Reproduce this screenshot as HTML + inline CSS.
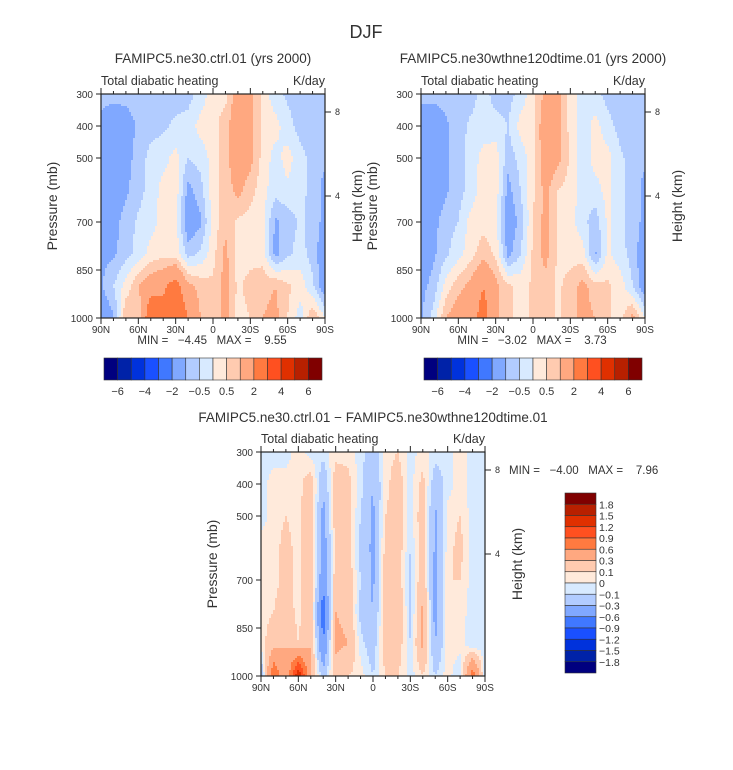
<!DOCTYPE html>
<html><head><meta charset="utf-8">
<style>
html,body{margin:0;padding:0;background:#fff;}
svg{display:block;font-family:"Liberation Sans",sans-serif;}
text{fill:#333;white-space:pre;}
</style></head>
<body>
<svg id="fig" width="733" height="770" viewBox="0 0 733 770" xmlns="http://www.w3.org/2000/svg">
<text x="366" y="38" font-size="18" text-anchor="middle">DJF</text>
</svg>
<script>
// ---- data ----
const lats = [90,80,70,60,50,40,30,20,10,0,-10,-20,-30,-40,-50,-60,-70,-80,-90];
const levs = [300,400,500,600,700,800,900,1000];
const ctrlVals = [
 [-0.8,-0.8,-0.8,-0.8,-0.8,-0.7,-0.7,-0.7,-0.3,0.3,0.3,1.5,1.2,0.3,-0.3,-0.6,-0.8,-0.8,-0.8],
 [-1.2,-1.5,-1.3,-0.9,-0.7,-0.6,-0.4,-0.3,0.2,0.3,0.8,1.5,1.2,0.3,0.2,-0.3,-0.7,-0.9,-0.9],
 [-1.3,-1.5,-1.2,-0.8,-0.3,-0.2,0.2,-0.5,-0.3,0.2,0.8,1.5,1.2,0.3,-0.2,0.2,-0.3,-0.7,-0.9],
 [-1.2,-1.3,-1.1,-0.7,-0.3,0.2,0.3,-1.2,-0.7,0.3,0.7,1.2,0.7,0.2,-0.3,-0.1,-0.3,-0.7,-1.2],
 [-1.1,-1.2,-0.8,-0.4,-0.2,0.2,0.2,-1.5,-1.1,0.2,0.8,0.4,0.3,0.2,-1.1,-0.8,-0.4,-0.7,-1.2],
 [-1.1,-1.1,-0.7,-0.3,0.2,0.3,0.3,-0.7,-0.4,0.3,1.2,0.2,0.3,0.3,-1.2,-0.6,-0.3,-0.7,-1.5],
 [-1.1,-0.5,0.2,1,1.5,1.8,2.5,1.2,0.8,0.6,1.2,0.4,0.7,0.8,1,0.6,0.3,-0.4,-1.5],
 [-1.5,-1.1,1,0.5,3,2.5,3,2,1,0.6,1.2,0.3,0.5,1,1.2,0.5,-0.3,1,0]
];
const expVals = [
 [-0.8,-0.8,-0.8,-0.8,-0.7,-0.3,-0.7,-0.7,-0.3,0.3,1.2,1.2,0.3,-0.3,-0.3,-0.7,-0.8,-0.9,-0.9],
 [-1.5,-1.5,-1.1,-0.7,-0.4,-0.3,-0.3,-0.5,0.2,0.4,1.5,1.3,0.3,-0.3,0.2,-0.3,-0.7,-0.9,-0.9],
 [-1.5,-1.5,-1.1,-0.7,-0.3,0.2,0.3,-0.8,-0.3,0.3,1.5,1.2,0.4,-0.3,0.2,0.2,-0.4,-0.7,-0.9],
 [-1.5,-1.5,-1.1,-0.7,-0.3,0.3,0.3,-1.2,-0.5,0.4,1.2,0.5,0.3,-0.3,-0.2,0.2,-0.4,-0.7,-1.2],
 [-1.5,-1.2,-0.7,-0.5,0.2,0.3,0.2,-1.5,-0.8,0.5,1.2,0.4,0.2,-0.3,-0.8,0.1,-0.4,-0.7,-1.2],
 [-1.5,-1.1,-0.6,-0.2,0.3,0.8,0.4,-1.2,-0.5,0.6,1.2,0.4,0.3,0.2,-1.1,0.1,-0.3,-0.7,-1.5],
 [-1.2,-0.8,0.2,0.8,1.2,2,1.2,0.6,0.3,0.6,0.8,0.4,0.7,1.2,0.7,0.6,0.3,-0.5,-1.5],
 [-1.1,-0.3,1,1.5,1.5,2.5,1.2,0.6,0.3,0.6,0.8,0.4,0.8,1.2,1,0.6,0.3,1.2,0]
];
const diffVals = [
 [-0.05,-0.05,-0.05,0.05,-0.05,-0.05,0.05,0.05,-0.05,-0.2,0.05,0.1,-0.05,0.05,-0.05,-0.05,0.05,-0.05,-0.05],
 [-0.05,0.05,0.05,0.05,0.2,-0.25,0.2,0.15,-0.05,-0.3,0.05,0.2,-0.05,0.15,-0.2,-0.05,0.05,-0.05,-0.05],
 [-0.05,0.05,0.1,0.05,0.25,-0.4,0.2,0.15,-0.1,-0.35,0.1,0.2,-0.05,0.2,-0.35,0.05,0.1,-0.05,-0.05],
 [0.05,0.05,0.15,0.05,0.25,-0.45,0.15,0.2,-0.15,-0.35,0.15,0.2,-0.1,0.2,-0.35,0.05,0.15,-0.05,-0.05],
 [0.05,0.05,0.15,0.05,0.25,-0.5,0.2,0.2,-0.1,-0.35,0.2,0.2,-0.15,0.25,-0.4,0.1,0.1,-0.05,-0.05],
 [0.05,0.1,0.2,0.05,0.25,-0.8,0.3,0.25,-0.15,-0.3,0.2,0.3,-0.15,0.35,-0.4,0.1,0.05,-0.05,-0.05],
 [0.05,0.2,0.3,0.1,0.3,-0.6,0.35,0.3,-0.05,-0.2,0.2,0.2,-0.1,0.35,-0.3,0.05,0.05,-0.1,-0.05],
 [-0.3,0.9,0.3,1.5,0.3,-0.2,0.2,0.1,0.05,-0.1,0.1,0.1,-0.05,0.1,-0.1,0.05,-0.1,0.8,-0.1]
];
const mainLevels = [-6,-5,-4,-3,-2,-1,-0.5,0,0.5,1,2,3,4,5,6];
const mainLabels = ["-6","-4","-2","-0.5","0.5","2","4","6"];
const diffLevels = [-1.8,-1.5,-1.2,-0.9,-0.6,-0.3,-0.1,0,0.1,0.3,0.6,0.9,1.2,1.5,1.8];
const colors = ["#00007f","#0022a8","#0032dc","#1a50ff","#4078ff","#80a8ff","#b2ccff","#d8eaff","#ffeadb","#ffcbb0","#ffa880","#ff7a40","#ff5020","#e03000","#b82000","#800000"];
const pTicks = [300,400,500,700,850,1000];
const latTicks = [90,60,30,0,-30,-60,-90];
const hTicks = [[8,18],[4,102]];

const NS="http://www.w3.org/2000/svg";
const svg=document.getElementById('fig');
function el(tag,attrs,parent){const e=document.createElementNS(NS,tag);for(const k in attrs)e.setAttribute(k,attrs[k]);(parent||svg).appendChild(e);return e;}
function txt(x,y,s,size,anchor,parent,extra){const t=el('text',Object.assign({x:x,y:y,'font-size':size,'text-anchor':anchor||'start'},extra||{}),parent);t.textContent=s;return t;}
function latLabel(l){return l===0?'0':(Math.abs(l)+(l>0?'N':'S'));}
function minus(s){return String(s).replace('-','\u2212');}

function sample(grid,lat,p){
  let fi=(90-lat)/10, fj=(p-300)/100;
  let i0=Math.min(Math.floor(fi),17), j0=Math.min(Math.floor(fj),6);
  let tx=fi-i0, ty=fj-j0;
  const a=grid[j0][i0],b=grid[j0][i0+1],c=grid[j0+1][i0],d=grid[j0+1][i0+1];
  return (a*(1-tx)+b*tx)*(1-ty)+(c*(1-tx)+d*tx)*ty;
}
function colorIdx(v,levels){let k=0;while(k<levels.length&&v>=levels[k])k++;return k;}

function panel(name,x0,y0,w,h,grid,levels,title,titleX,titleY){
  const g=el('g',{});
  
  
  const xs=lat=>x0+(90-lat)/180*w;
  const ys=p=>y0+(p-300)/700*h;
  const cell=2;
  const nx=Math.ceil(w/cell), ny=Math.ceil(h/cell);
  for(let r=0;r<ny;r++){
    const py=y0+r*cell, p=300+(r*cell+cell/2)/h*700;
    let start=0, cur=-1;
    for(let c=0;c<=nx;c++){
      let k=-2;
      if(c<nx){const lat=90-(c*cell+cell/2)/w*180;k=colorIdx(sample(grid,lat,p),levels);}
      if(k!==cur){
        if(cur>=0){
          const rc=el('rect',{x:x0+start*cell,y:py,width:Math.min((c-start)*cell,w-start*cell)+0.4,height:Math.min(cell,y0+h-py)+0.4,fill:colors[cur]},g);
          
          
        }
        cur=k;start=c;
      }
    }
  }
  el('rect',{x:x0,y:y0,width:w,height:h,fill:'none',stroke:'#222','stroke-width':1.2},g);
  for(let l=90;l>=-90;l-=10){
    const len=(l%30===0)?6:3;
    el('line',{x1:xs(l),x2:xs(l),y1:y0+h,y2:y0+h+len,stroke:'#222'},g);
    el('line',{x1:xs(l),x2:xs(l),y1:y0,y2:y0-len,stroke:'#222'},g);
  }
  latTicks.forEach(l=>{const t=txt(xs(l),y0+h+15,latLabel(l),10,'middle',g);});
  pTicks.forEach(p=>{
    el('line',{x1:x0-5,x2:x0,y1:ys(p),y2:ys(p),stroke:'#222'},g);
    const t=txt(x0-8,ys(p)+4,String(p),10,'end',g);
    
    
  });
  hTicks.forEach(([km,off])=>{
    el('line',{x1:x0+w,x2:x0+w+6,y1:y0+off,y2:y0+off,stroke:'#222'},g);
    txt(x0+w+10,y0+off+3,String(km),9,'start',g);
  });
  const yt=txt(0,0,'Pressure (mb)',14,'middle',g,{transform:`translate(${x0-44},${y0+h/2}) rotate(-90)`,fill:'#555'});
  
  
  const ht=txt(0,0,'Height (km)',14,'middle',g,{transform:`translate(${x0+w+37},${y0+h/2}) rotate(-90)`,fill:'#555'});
  
  
  const tt=txt(titleX,titleY,title,13.5,'middle',g,{fill:'#444'});
  
  
  const st=txt(x0,y0-9,'Total diabatic heating',12.5,'start',g,{fill:'#444'});
  
  
  const ut=txt(x0+w,y0-9,'K/day',12.5,'end',g,{fill:'#444'});
  
  
}

function hbar(name,x0,y0,w,h){
  const g=el('g',{});
  
  
  const bw=w/colors.length;
  colors.forEach((c,i)=>{
    const r=el('rect',{x:x0+i*bw,y:y0,width:bw,height:h,fill:c,stroke:'#333','stroke-width':0.6},g);
    
    
  });
  mainLabels.forEach((s,i)=>{txt(x0+(2*i+1)*bw,y0+h+15,minus(s),11,'middle',g);});
}
function vbar(name,x0,y0,w,h){
  const g=el('g',{});
  
  
  const bh=h/colors.length;
  colors.slice().reverse().forEach((c,i)=>{
    const r=el('rect',{x:x0,y:y0+i*bh,width:w,height:bh,fill:c,stroke:'#333','stroke-width':0.6},g);
    
    
  });
  diffLevels.slice().reverse().forEach((v,i)=>{txt(x0+w+3,y0+(i+1)*bh+4,minus(v),10.5,'start',g);});
}

panel('panel-ctrl',101,94,224,224,ctrlVals,mainLevels,'FAMIPC5.ne30.ctrl.01 (yrs 2000)',213,63);
panel('panel-exp',421,94,224,224,expVals,mainLevels,'FAMIPC5.ne30wthne120dtime.01 (yrs 2000)',533,63);
panel('panel-diff',261,452,224,224,diffVals,diffLevels,'FAMIPC5.ne30.ctrl.01 \u2212 FAMIPC5.ne30wthne120dtime.01',373,422);
hbar('colorbar-ctrl',104,358,218,22);
hbar('colorbar-exp',424,358,218,22);
vbar('colorbar-diff',565,493,31,180);
const m1=txt(212,344,'MIN =   \u22124.45   MAX =    9.55',11.5,'middle');

const m2=txt(532,344,'MIN =   \u22123.02   MAX =    3.73',11.5,'middle');

const m3=txt(509,474,'MIN =   \u22124.00   MAX =    7.96',11.5,'start');

</script>
</body></html>
